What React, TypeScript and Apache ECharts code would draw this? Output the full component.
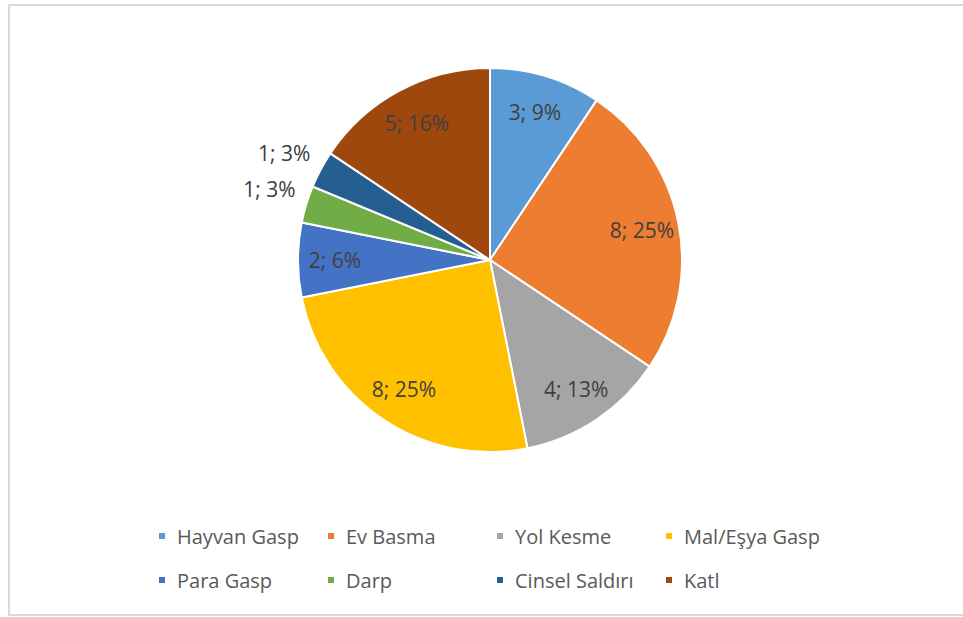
import React, { useEffect, useRef } from "react";
import * as echarts from "echarts";

const categories = [
  "Hayvan Gasp",
  "Ev Basma",
  "Yol Kesme",
  "Mal/Eşya Gasp",
  "Para Gasp",
  "Darp",
  "Cinsel Saldırı",
  "Katl",
];
const values = [3, 8, 4, 8, 2, 1, 1, 5];
const colors = ["#5B9BD5", "#ED7D31", "#A5A5A5", "#FFC000", "#4472C4", "#70AD47", "#255E91", "#9E480E"];
const outsideLabelNames = ["Darp", "Cinsel Saldırı"];

const FONT = "Open Sans";

export default function App() {
  const ref = useRef<HTMLDivElement>(null);
  useEffect(() => {
    document.body.style.margin = "0";
    if (!ref.current) return;
    const chart = echarts.init(ref.current, undefined, { renderer: "svg" });
    const fmt = (p: any) => `${p.value}; ${Math.round(p.percent)}%`;
    const labelText = { color: "#404040", fontSize: 21, fontFamily: FONT };
    chart.setOption({
      animation: false,
      backgroundColor: "#ffffff",
      color: colors,
      graphic: [
        {
          type: "rect",
          shape: { x: 9, y: 5, width: 960, height: 610 },
          style: { fill: "none", stroke: "#d9d9d9", lineWidth: 2 },
          silent: true,
          z: -1,
        },
      ],
      legend: {
        data: categories,
        left: 152,
        top: 517,
        width: 700,
        orient: "horizontal",
        icon: "rect",
        itemWidth: 8,
        itemHeight: 8,
        itemGap: 16,
        textStyle: {
          color: "#595959",
          fontSize: 20,
          fontFamily: FONT,
          width: 133,
          lineHeight: 28,
          padding: [0, 0, 0, 6],
        },
        selectedMode: false,
      },
      series: [
        {
          type: "pie",
          center: [490, 260],
          radius: [0, 192],
          startAngle: 90,
          clockwise: true,
          itemStyle: { borderColor: "#ffffff", borderWidth: 2 },
          label: {
            show: true,
            position: "outside",
            formatter: fmt,
            ...labelText,
          },
          labelLine: { show: false, length: 6, length2: 0 },
          labelLayout: () => ({ dy: -14 }),
          emphasis: { disabled: true },
          data: categories.map((name, i) => ({
            name,
            value: values[i],
            label: { show: outsideLabelNames.includes(name) },
          })),
        },
        {
          type: "pie",
          center: [490, 260],
          radius: [0, 304],
          startAngle: 90,
          clockwise: true,
          silent: true,
          z: 5,
          itemStyle: { color: "rgba(0,0,0,0)", borderWidth: 0 },
          label: {
            show: true,
            position: "inside",
            formatter: fmt,
            ...labelText,
          },
          labelLine: { show: false },
          emphasis: { disabled: true },
          data: categories.map((name, i) => ({
            name,
            value: values[i],
            label: { show: !outsideLabelNames.includes(name) },
          })),
        },
      ],
    });
    return () => chart.dispose();
  }, []);
  return <div ref={ref} style={{ width: 963, height: 617 }} />;
}
